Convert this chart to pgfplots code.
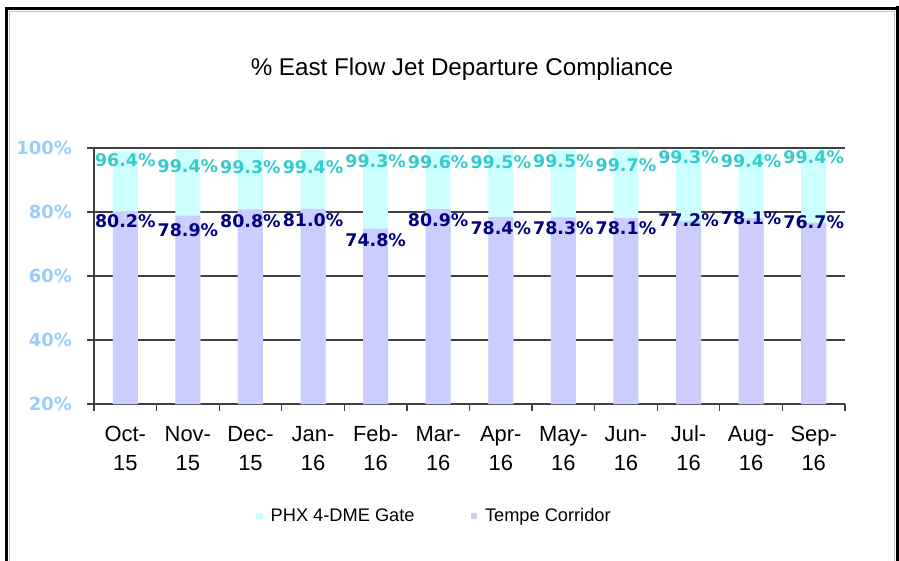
\documentclass[border=0pt]{standalone}
\usepackage{pgfplots}
\pgfplotsset{compat=1.18}
\usepackage{pgfplotstable}
\usepackage{fontspec}
\setmainfont{Liberation Sans}
\newfontfamily\dv{DejaVu Sans}
\definecolor{cyanbar}{HTML}{CCFFFF}
\definecolor{lavbar}{HTML}{CCCCFF}
\definecolor{cyanlab}{HTML}{33CCCC}
\definecolor{navylab}{HTML}{000080}
\definecolor{ytl}{HTML}{99CCFF}

\pgfplotstableread{
x gate tempe
0 99.2 80.2
1 99.4 78.9
2 99.3 80.8
3 99.4 81.0
4 99.3 74.8
5 99.6 80.9
6 99.5 78.4
7 99.5 78.3
8 99.7 78.1
9 99.3 77.2
10 99.4 78.1
11 99.4 76.7
}\bars

\pgfplotstableread{
x y lab
0 96.25 96.4
1 94.2 99.4
2 94.0 99.3
3 94.0 99.4
4 96.0 99.3
5 95.5 99.6
6 95.5 99.5
7 96.0 99.5
8 94.5 99.7
9 97.1 99.3
10 96.0 99.4
11 97.1 99.4
}\gatelab

\pgfplotstableread{
x y lab
0 77.0 80.2
1 74.4 78.9
2 77.0 80.8
3 77.5 81.0
4 71.25 74.8
5 77.3 80.9
6 74.9 78.4
7 74.9 78.3
8 74.9 78.1
9 77.5 77.2
10 78.0 78.1
11 76.8 76.7
}\tempelab

\begin{document}
\begin{tikzpicture}
\path[use as bounding box] (0,0) rectangle (899bp,-561bp);
\fill[white] (0,0) rectangle (899bp,-561bp);
\begin{axis}[
  at={(94bp,-404bp)}, anchor=south west, scale only axis,
  width=751bp, height=256bp,
  xmin=-0.5, xmax=11.5, ymin=20, ymax=100,
  axis lines*=left,
  axis line style={black!75, line width=1.2bp},
  ytick={20,40,60,80,100},
  yticklabels={20\%,40\%,60\%,80\%,100\%},
  ymajorgrids, grid style={black!75, line width=1.2bp},
  xtick={0,1,2,3,4,5,6,7,8,9,10,11},
  xticklabels={Oct-,Nov-,Dec-,Jan-,Feb-,Mar-,Apr-,May-,Jun-,Jul-,Aug-,Sep-},
  extra x ticks={0,1,2,3,4,5,6,7,8,9,10,11},
  extra x tick labels={15,15,15,16,16,16,16,16,16,16,16,16},
  extra x tick style={major tick length=0pt, xticklabel style={yshift=-36bp}},
  minor xtick={-0.5,0.5,1.5,2.5,3.5,4.5,5.5,6.5,7.5,8.5,9.5,10.5,11.5},
  every major x tick/.append style={draw=none},
  typeset ticklabels with strut,
  tick align=outside, major tick length=7bp, minor tick length=7bp,
  tick style={black!75, line width=1.2bp},
  yticklabel style={font=\dv\bfseries\fontsize{18}{20}\selectfont, text=ytl, inner sep=0pt, xshift=-15bp, yshift=-3bp},
  xticklabel style={font=\fontsize{22}{26}\selectfont, inner sep=0pt, yshift=-12bp},
  legend style={draw=none, fill=none, inner sep=0pt,
    at={(axis description cs:0.2157,-0.4375)}, anchor=west,
    font=\fontsize{18.3}{20}\selectfont,
    /tikz/every odd column/.append style={column sep=6bp},
    /tikz/every even column/.append style={column sep=54bp}},
  legend columns=2,
]
\addplot[ybar, bar width=25bp, bar shift=0pt, fill=cyanbar, draw=none,
  legend image code/.code={\fill[cyanbar] (0bp,-3.3bp) rectangle (6.5bp,3.3bp);}]
  table[x=x, y=gate] {\bars};
\addlegendentry{PHX 4-DME Gate}
\addplot[ybar, bar width=25bp, bar shift=0pt, fill=lavbar, draw=none,
  legend image code/.code={\fill[lavbar] (0bp,-3.3bp) rectangle (6.5bp,3.3bp);}]
  table[x=x, y=tempe] {\bars};
\addlegendentry{Tempe Corridor}
\addplot[draw=none, mark=none, forget plot,
  nodes near coords={\pgfplotspointmeta\%}, point meta=explicit symbolic,
  every node near coord/.style={anchor=center, text=cyanlab, inner sep=0pt,
    font=\dv\bfseries\fontsize{17.5}{20}\selectfont}]
  table[x=x, y=y, meta=lab] {\gatelab};
\addplot[draw=none, mark=none, forget plot,
  nodes near coords={\pgfplotspointmeta\%}, point meta=explicit symbolic,
  every node near coord/.style={anchor=center, text=navylab, inner sep=0pt,
    font=\dv\bfseries\fontsize{17.5}{20}\selectfont}]
  table[x=x, y=y, meta=lab] {\tempelab};
\end{axis}
\node[anchor=base, font=\fontsize{24.3}{28}\selectfont] at (462bp,-75bp) {\% East Flow Jet Departure Compliance};
% frame
\draw[black!25, line width=1bp] (9.5bp,-600bp) |- (894bp,-11bp) -- (894bp,-600bp);
\draw[black, line width=3bp] (6.5bp,-600bp) |- (898bp,-8.5bp);
\draw[black, line width=4bp] (897.5bp,-6bp) -- (897.5bp,-600bp);
\end{tikzpicture}
\end{document}
